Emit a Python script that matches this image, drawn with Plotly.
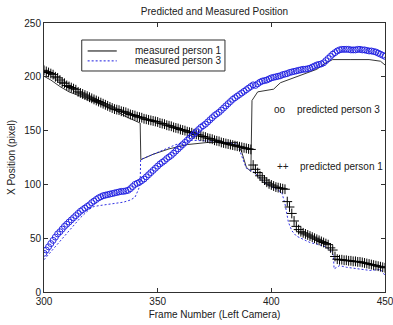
import plotly.graph_objects as go

# ---------------- data ----------------
frames = list(range(300, 451))

pred_person1 = [
    206, 205, 204, 203, 202, 200, 199, 197, 195, 194, 192,
    191, 190, 189, 188, 186, 185, 184, 183, 182, 181,
    180, 179, 178, 177, 176, 175, 174, 173, 172, 171,
    170, 169.5, 169, 168, 167.5, 167, 166, 165, 164.5, 164,
    163, 162.5, 162, 161, 160.5, 160, 159.5, 159, 158.5, 158,
    157, 156.5, 156, 155, 154.5, 154, 153, 152.5, 152, 151,
    150.5, 150, 149, 148.5, 148, 147, 146.5, 146, 145, 144.5,
    144, 143, 142.5, 142, 141, 140.5, 140, 139, 138.5, 138,
    137.5, 137, 136.5, 136, 135.5, 135, 134.5, 134, 133.5, 133,
    132.5, 118, 114, 111, 108, 106, 104, 102, 100.5, 99.5,
    98.5, 97.5, 97, 96.5, 96, 95.5, 84, 79, 73, 66,
    61, 58, 56, 55, 54, 53, 52, 51, 50, 49,
    48, 47, 46, 45, 44, 41, 39, 33, 30.5, 30,
    30, 29.5, 29.5, 29, 29, 28.5, 28.5, 28, 28, 27.5,
    27, 26.5, 26, 25.5, 25, 24.5, 24, 23.5, 23, 22.5,
]

pred_person3 = [
    36, 39, 42, 45, 48, 51, 54, 56, 58.5, 61, 63,
    65, 67, 69, 71, 73, 75, 76.5, 78, 79.5, 81,
    83, 84.5, 86, 87.5, 88.5, 89.5, 90, 90.5, 91, 91.5,
    92, 92.5, 93, 93.5, 93.5, 94, 94.5, 96, 98, 100,
    101, 102, 103.5, 105, 107, 109, 111, 113, 115, 117,
    119, 120.5, 122, 124, 125.5, 127, 129, 131, 133, 135,
    137, 139, 141, 143, 145, 147, 149, 151, 153, 154.5,
    156, 158, 160, 162, 164, 165.5, 167, 169, 171, 173,
    175, 177, 179, 180.5, 182, 183.5, 185, 186.5, 188, 189.5,
    191, 192.5, 192, 193.5, 195, 196, 196.5, 197, 198, 199,
    199.5, 200, 200.5, 201, 202, 202.5, 203, 204, 204.5, 205,
    205.5, 206, 206.5, 207, 207, 207.5, 208, 209, 210, 211,
    211.5, 212, 213, 215, 217, 219, 221, 222.5, 224, 225,
    225.5, 225.5, 225.5, 225.5, 225, 225, 225, 225.5, 225.5, 225,
    225, 224.5, 224, 224, 223.5, 223, 222, 221, 220, 219,
]

meas1_frames = [300, 303, 307, 311, 316, 320, 325, 332, 336, 341, 342.3, 342.6,
                348, 355, 363, 372, 380, 385, 387, 389, 391, 391.5, 394, 401,
                404, 412, 420, 424, 427, 435, 443, 448, 450]
meas1_x = [200.5, 197, 191, 186, 182, 178, 174.5, 168, 163, 158, 157, 123,
           128, 133, 137, 139, 139, 139, 130, 116, 112, 178, 186, 188.5,
           194.5, 200.5, 207, 213, 216, 216, 216, 214.5, 211]

meas3_frames = [300, 302, 305, 307, 310, 313, 316, 320, 322, 325, 330, 335, 338,
                340, 341.5, 342.3, 342.5, 350, 358, 365, 376, 385, 387, 389,
                392, 395, 398, 401, 404.6, 406, 407.5, 409, 411, 414, 417, 421,
                424.5, 426.5, 427.3, 427.6, 430, 433, 437.6, 443.5, 448, 450]
meas3_x = [30, 35, 42, 47, 55, 62, 69, 77, 79.5, 80.5, 82, 83.5, 85.5,
           88, 95, 100, 123, 130, 137, 141, 140, 137.5, 126, 115,
           112, 106, 100, 97, 92.5, 82, 65, 57, 52, 49, 46, 44,
           41.5, 37, 34, 21.5, 24.5, 23, 21.5, 20, 21, 15.5]

title_text = "Predicted and Measured Position"
x_title = "Frame Number (Left Camera)"
y_title = "X Position (pixel)"
x_ticks = [300, 350, 400, 450]
y_ticks = [0, 50, 100, 150, 200, 250]
legend_labels = ["measured person 1", "measured person 3"]

# ---------------- styling ----------------
FONT = "Liberation Sans, Arial, Helvetica, sans-serif"
BLUE = "#1a1ae0"
AX = "#303030"
TXT = "#202020"

fig = go.Figure()

fig.add_trace(go.Scatter(x=meas1_frames, y=meas1_x, mode="lines",
                         line=dict(color="#202020", width=0.9),
                         showlegend=False, name=legend_labels[0]))
fig.add_trace(go.Scatter(x=meas3_frames, y=meas3_x, mode="lines",
                         line=dict(color=BLUE, width=0.9, dash="2px,2px"),
                         showlegend=False, name=legend_labels[1]))
fig.add_trace(go.Scatter(x=frames, y=pred_person1, mode="markers",
                         marker=dict(symbol="cross-thin", size=7,
                                     line=dict(color="black", width=1)),
                         showlegend=False))
fig.add_trace(go.Scatter(x=frames, y=pred_person3, mode="markers",
                         marker=dict(symbol="circle-open", size=6, color=BLUE,
                                     line=dict(color=BLUE, width=0.9)),
                         showlegend=False))

# manual MATLAB-style legend box
fig.add_shape(type="rect", xref="x", yref="y", x0=316.6, x1=379.6, y0=205.4, y1=234.2,
              line=dict(color=AX, width=1), fillcolor="white", layer="above")
fig.add_shape(type="line", xref="x", yref="y", x0=319.2, x1=332.0, y0=224.0, y1=224.0,
              line=dict(color="black", width=1), layer="above")
fig.add_shape(type="line", xref="x", yref="y", x0=319.2, x1=332.0, y0=214.8, y1=214.8,
              line=dict(color=BLUE, width=1, dash="2px,2px"), layer="above")
for yy, lab in zip([224.0, 214.8], legend_labels):
    fig.add_annotation(x=339.1, y=yy, xref="x", yref="y", text=lab, showarrow=False,
                       xanchor="left", yanchor="middle",
                       font=dict(family=FONT, size=10, color=TXT))

# in-plot text labels
for xx, yy, txt in [(400.4, 169.2, "oo"), (410.4, 169.2, "predicted person 3"),
                    (401.5, 116.3, "++"), (411.7, 116.3, "predicted person 1")]:
    fig.add_annotation(x=xx, y=yy, xref="x", yref="y", text=txt, showarrow=False,
                       xanchor="left", yanchor="middle",
                       font=dict(family=FONT, size=10, color=TXT))

axis_common = dict(showgrid=False, zeroline=False, showline=True, linecolor=AX,
                   linewidth=1, mirror="ticks", ticks="inside", ticklen=4,
                   tickcolor=AX, tickwidth=1, automargin=False,
                   ticklabeloverflow="allow",
                   tickfont=dict(family=FONT, size=10, color=TXT))

fig.update_xaxes(range=[300, 450], tickvals=x_ticks, ticktext=[str(v) for v in x_ticks],
                 title=dict(text=x_title, font=dict(family=FONT, size=10, color=TXT),
                            standoff=4),
                 **axis_common)
fig.update_yaxes(range=[0, 250], tickvals=y_ticks, ticktext=[str(v) for v in y_ticks],
                 title=dict(text=y_title, font=dict(family=FONT, size=10, color=TXT),
                            standoff=6),
                 **axis_common)

fig.update_layout(
    width=393, height=325, autosize=False,
    margin=dict(l=44, r=8, t=23, b=33, pad=0),
    paper_bgcolor="white", plot_bgcolor="white",
    title=dict(text=title_text, x=0.5, xref="paper", y=1 - 11 / 325, yref="container",
               xanchor="center", yanchor="middle",
               font=dict(family=FONT, size=10, color=TXT)),
    showlegend=False,
)

fig.write_html("out.html", config={"displayModeBar": False},
               post_script="document.body.style.margin='0';document.body.style.padding='0';")
